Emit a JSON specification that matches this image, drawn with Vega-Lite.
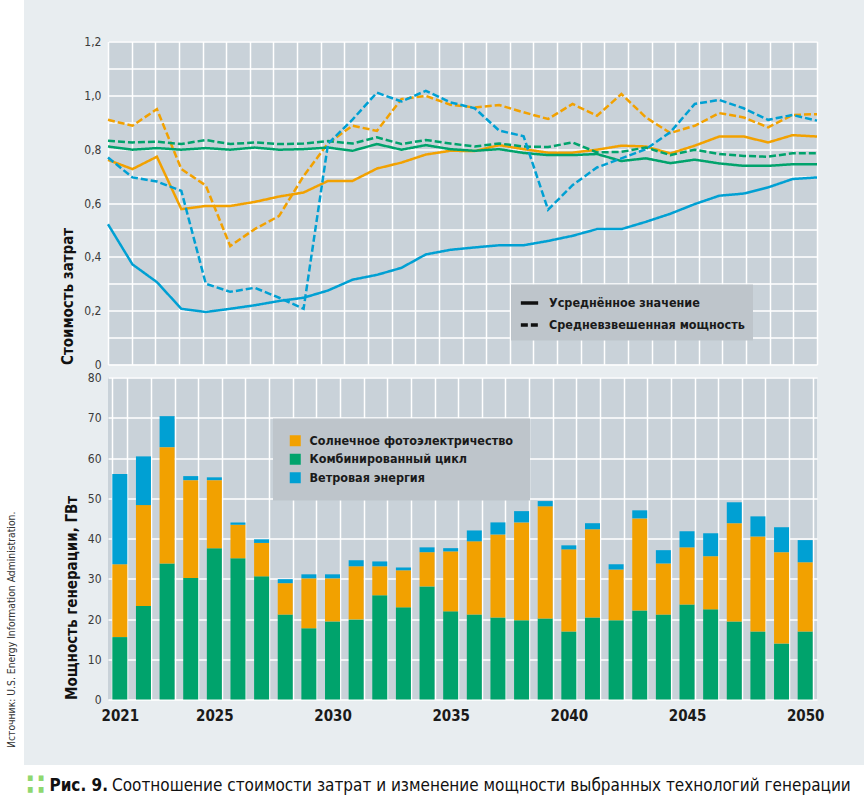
{
  "$schema": "https://vega.github.io/schema/vega-lite/v6.json",
  "background": "#e8edf0",
  "padding": 0,
  "spacing": 0,
  "config": {
    "font": "Liberation Sans Narrow, DejaVu Sans Condensed, Roboto Condensed, Roboto, sans-serif",
    "view": {"stroke": null, "fill": "#c9d2d9"},
    "axis": {
      "domain": false,
      "ticks": false,
      "gridColor": "#ffffff",
      "gridWidth": 1.5,
      "gridOpacity": 1,
      "labelFontSize": 12,
      "labelColor": "#3a3a3a",
      "labelPadding": 7,
      "titleFontSize": 15,
      "titleFontWeight": "bold",
      "titleColor": "#111111",
      "titleAnchor": "start",
      "titlePadding": 8
    },
    "legend": {
      "labelFontSize": 12.5,
      "labelFontWeight": "bold",
      "labelColor": "#1a1a1a",
      "labelLimit": 400
    }
  },
  "datasets": {
    "costs": [
      {"year": 2021, "tech": "solar", "avg": 0.76, "wtd": 0.909},
      {"year": 2022, "tech": "solar", "avg": 0.726, "wtd": 0.887},
      {"year": 2023, "tech": "solar", "avg": 0.772, "wtd": 0.949},
      {"year": 2024, "tech": "solar", "avg": 0.577, "wtd": 0.726},
      {"year": 2025, "tech": "solar", "avg": 0.589, "wtd": 0.665},
      {"year": 2026, "tech": "solar", "avg": 0.589, "wtd": 0.44},
      {"year": 2027, "tech": "solar", "avg": 0.604, "wtd": 0.503},
      {"year": 2028, "tech": "solar", "avg": 0.624, "wtd": 0.552},
      {"year": 2029, "tech": "solar", "avg": 0.639, "wtd": 0.70},
      {"year": 2030, "tech": "solar", "avg": 0.682, "wtd": 0.822},
      {"year": 2031, "tech": "solar", "avg": 0.682, "wtd": 0.887},
      {"year": 2032, "tech": "solar", "avg": 0.728, "wtd": 0.868},
      {"year": 2033, "tech": "solar", "avg": 0.75, "wtd": 0.986},
      {"year": 2034, "tech": "solar", "avg": 0.78, "wtd": 0.998},
      {"year": 2035, "tech": "solar", "avg": 0.794, "wtd": 0.965},
      {"year": 2036, "tech": "solar", "avg": 0.793, "wtd": 0.955},
      {"year": 2037, "tech": "solar", "avg": 0.815, "wtd": 0.964},
      {"year": 2038, "tech": "solar", "avg": 0.80, "wtd": 0.937},
      {"year": 2039, "tech": "solar", "avg": 0.787, "wtd": 0.912},
      {"year": 2040, "tech": "solar", "avg": 0.787, "wtd": 0.968},
      {"year": 2041, "tech": "solar", "avg": 0.798, "wtd": 0.924},
      {"year": 2042, "tech": "solar", "avg": 0.813, "wtd": 1.005},
      {"year": 2043, "tech": "solar", "avg": 0.81, "wtd": 0.918},
      {"year": 2044, "tech": "solar", "avg": 0.784, "wtd": 0.86},
      {"year": 2045, "tech": "solar", "avg": 0.813, "wtd": 0.887},
      {"year": 2046, "tech": "solar", "avg": 0.847, "wtd": 0.934},
      {"year": 2047, "tech": "solar", "avg": 0.847, "wtd": 0.918},
      {"year": 2048, "tech": "solar", "avg": 0.825, "wtd": 0.881},
      {"year": 2049, "tech": "solar", "avg": 0.852, "wtd": 0.927},
      {"year": 2050, "tech": "solar", "avg": 0.847, "wtd": 0.93},
      {"year": 2021, "tech": "cc", "avg": 0.81, "wtd": 0.831},
      {"year": 2022, "tech": "cc", "avg": 0.798, "wtd": 0.825},
      {"year": 2023, "tech": "cc", "avg": 0.804, "wtd": 0.828},
      {"year": 2024, "tech": "cc", "avg": 0.798, "wtd": 0.819},
      {"year": 2025, "tech": "cc", "avg": 0.804, "wtd": 0.834},
      {"year": 2026, "tech": "cc", "avg": 0.798, "wtd": 0.819},
      {"year": 2027, "tech": "cc", "avg": 0.806, "wtd": 0.825},
      {"year": 2028, "tech": "cc", "avg": 0.798, "wtd": 0.819},
      {"year": 2029, "tech": "cc", "avg": 0.80, "wtd": 0.821},
      {"year": 2030, "tech": "cc", "avg": 0.806, "wtd": 0.83},
      {"year": 2031, "tech": "cc", "avg": 0.794, "wtd": 0.821},
      {"year": 2032, "tech": "cc", "avg": 0.819, "wtd": 0.844},
      {"year": 2033, "tech": "cc", "avg": 0.798, "wtd": 0.819},
      {"year": 2034, "tech": "cc", "avg": 0.815, "wtd": 0.834},
      {"year": 2035, "tech": "cc", "avg": 0.80, "wtd": 0.821},
      {"year": 2036, "tech": "cc", "avg": 0.794, "wtd": 0.81},
      {"year": 2037, "tech": "cc", "avg": 0.80, "wtd": 0.821},
      {"year": 2038, "tech": "cc", "avg": 0.786, "wtd": 0.81},
      {"year": 2039, "tech": "cc", "avg": 0.778, "wtd": 0.808},
      {"year": 2040, "tech": "cc", "avg": 0.778, "wtd": 0.825},
      {"year": 2041, "tech": "cc", "avg": 0.782, "wtd": 0.788},
      {"year": 2042, "tech": "cc", "avg": 0.756, "wtd": 0.79},
      {"year": 2043, "tech": "cc", "avg": 0.766, "wtd": 0.806},
      {"year": 2044, "tech": "cc", "avg": 0.748, "wtd": 0.778},
      {"year": 2045, "tech": "cc", "avg": 0.761, "wtd": 0.798},
      {"year": 2046, "tech": "cc", "avg": 0.747, "wtd": 0.782},
      {"year": 2047, "tech": "cc", "avg": 0.738, "wtd": 0.775},
      {"year": 2048, "tech": "cc", "avg": 0.738, "wtd": 0.772},
      {"year": 2049, "tech": "cc", "avg": 0.744, "wtd": 0.785},
      {"year": 2050, "tech": "cc", "avg": 0.744, "wtd": 0.785},
      {"year": 2021, "tech": "wind", "avg": 0.521, "wtd": 0.769},
      {"year": 2022, "tech": "wind", "avg": 0.372, "wtd": 0.695},
      {"year": 2023, "tech": "wind", "avg": 0.306, "wtd": 0.68},
      {"year": 2024, "tech": "wind", "avg": 0.207, "wtd": 0.645},
      {"year": 2025, "tech": "wind", "avg": 0.195, "wtd": 0.30},
      {"year": 2026, "tech": "wind", "avg": 0.207, "wtd": 0.27},
      {"year": 2027, "tech": "wind", "avg": 0.22, "wtd": 0.285},
      {"year": 2028, "tech": "wind", "avg": 0.236, "wtd": 0.248},
      {"year": 2029, "tech": "wind", "avg": 0.248, "wtd": 0.207},
      {"year": 2030, "tech": "wind", "avg": 0.275, "wtd": 0.82},
      {"year": 2031, "tech": "wind", "avg": 0.315, "wtd": 0.91},
      {"year": 2032, "tech": "wind", "avg": 0.333, "wtd": 1.01},
      {"year": 2033, "tech": "wind", "avg": 0.359, "wtd": 0.977},
      {"year": 2034, "tech": "wind", "avg": 0.409, "wtd": 1.017},
      {"year": 2035, "tech": "wind", "avg": 0.426, "wtd": 0.974},
      {"year": 2036, "tech": "wind", "avg": 0.435, "wtd": 0.952},
      {"year": 2037, "tech": "wind", "avg": 0.443, "wtd": 0.869},
      {"year": 2038, "tech": "wind", "avg": 0.443, "wtd": 0.848},
      {"year": 2039, "tech": "wind", "avg": 0.459, "wtd": 0.575},
      {"year": 2040, "tech": "wind", "avg": 0.478, "wtd": 0.666},
      {"year": 2041, "tech": "wind", "avg": 0.503, "wtd": 0.732},
      {"year": 2042, "tech": "wind", "avg": 0.503, "wtd": 0.766},
      {"year": 2043, "tech": "wind", "avg": 0.53, "wtd": 0.80},
      {"year": 2044, "tech": "wind", "avg": 0.56, "wtd": 0.863},
      {"year": 2045, "tech": "wind", "avg": 0.596, "wtd": 0.968},
      {"year": 2046, "tech": "wind", "avg": 0.627, "wtd": 0.983},
      {"year": 2047, "tech": "wind", "avg": 0.635, "wtd": 0.952},
      {"year": 2048, "tech": "wind", "avg": 0.658, "wtd": 0.909},
      {"year": 2049, "tech": "wind", "avg": 0.689, "wtd": 0.927},
      {"year": 2050, "tech": "wind", "avg": 0.695, "wtd": 0.906}
    ],
    "capacity": [
      {"year": 2021, "cc": 15.5, "solar": 18.1, "wind": 22.4},
      {"year": 2022, "cc": 23.2, "solar": 25.1, "wind": 12.1},
      {"year": 2023, "cc": 33.8, "solar": 28.9, "wind": 7.7},
      {"year": 2024, "cc": 30.2, "solar": 24.3, "wind": 1.0},
      {"year": 2025, "cc": 37.6, "solar": 16.9, "wind": 0.7},
      {"year": 2026, "cc": 35.1, "solar": 8.3, "wind": 0.6},
      {"year": 2027, "cc": 30.6, "solar": 8.3, "wind": 0.9},
      {"year": 2028, "cc": 21.1, "solar": 7.8, "wind": 1.0},
      {"year": 2029, "cc": 17.7, "solar": 12.4, "wind": 1.0},
      {"year": 2030, "cc": 19.4, "solar": 10.7, "wind": 1.0},
      {"year": 2031, "cc": 19.9, "solar": 13.2, "wind": 1.5},
      {"year": 2032, "cc": 25.9, "solar": 7.2, "wind": 1.2},
      {"year": 2033, "cc": 22.9, "solar": 9.2, "wind": 0.7},
      {"year": 2034, "cc": 28.1, "solar": 8.5, "wind": 1.2},
      {"year": 2035, "cc": 21.9, "solar": 14.9, "wind": 0.8},
      {"year": 2036, "cc": 21.1, "solar": 18.2, "wind": 2.7},
      {"year": 2037, "cc": 20.4, "solar": 20.6, "wind": 3.0},
      {"year": 2038, "cc": 19.7, "solar": 24.3, "wind": 2.8},
      {"year": 2039, "cc": 20.1, "solar": 27.9, "wind": 1.3},
      {"year": 2040, "cc": 16.9, "solar": 20.4, "wind": 1.0},
      {"year": 2041, "cc": 20.4, "solar": 21.9, "wind": 1.5},
      {"year": 2042, "cc": 19.7, "solar": 12.6, "wind": 1.3},
      {"year": 2043, "cc": 22.1, "solar": 22.9, "wind": 2.0},
      {"year": 2044, "cc": 21.1, "solar": 12.7, "wind": 3.3},
      {"year": 2045, "cc": 23.6, "solar": 14.2, "wind": 4.0},
      {"year": 2046, "cc": 22.4, "solar": 13.2, "wind": 5.7},
      {"year": 2047, "cc": 19.4, "solar": 24.4, "wind": 5.2},
      {"year": 2048, "cc": 16.9, "solar": 23.6, "wind": 5.0},
      {"year": 2049, "cc": 13.9, "solar": 22.7, "wind": 6.2},
      {"year": 2050, "cc": 16.9, "solar": 17.2, "wind": 5.5}
    ]
  },
  "vconcat": [
    {
      "hconcat": [
        {
          "width": 24,
          "height": 765,
          "view": {"fill": "#ffffff", "stroke": null},
          "data": {"values": [{"source": "Источник: U.S. Energy Information Administration."}]},
          "mark": {"type": "text", "angle": 270, "align": "left", "baseline": "middle", "y": "height", "dx": 17, "fontSize": 10.3, "color": "#333333"},
          "encoding": {"text": {"field": "source"}}
        },
        {
          "vconcat": [
            {
              "width": 709,
              "height": 323,
              "data": {"name": "costs"},
              "transform": [{"fold": ["avg", "wtd"], "as": ["kind", "value"]}],
              "mark": {"type": "line", "strokeWidth": 2.5},
              "encoding": {
                "x": {
                  "field": "year",
                  "type": "quantitative",
                  "scale": {"domain": [2021, 2050], "nice": false, "zero": false},
                  "axis": {
                    "title": null,
                    "labels": false,
                    "grid": true,
                    "values": [2021, 2021.9667, 2022.9333, 2023.9, 2024.8667, 2025.8333, 2026.8, 2027.7667, 2028.7333, 2029.7, 2030.6667, 2031.6333, 2032.6, 2033.5667, 2034.5333, 2035.5, 2036.4667, 2037.4333, 2038.4, 2039.3667, 2040.3333, 2041.3, 2042.2667, 2043.2333, 2044.2, 2045.1667, 2046.1333, 2047.1, 2048.0667, 2049.0333, 2050]
                  }
                },
                "y": {
                  "field": "value",
                  "type": "quantitative",
                  "scale": {"domain": [0, 1.2], "nice": false},
                  "axis": {
                    "title": "Стоимость затрат",
                    "values": [0, 0.1, 0.2, 0.3, 0.4, 0.5, 0.6, 0.7, 0.8, 0.9, 1.0, 1.1, 1.2],
                    "labelExpr": "datum.value == 0 ? '0' : (round(datum.value * 10) % 2 == 0 ? replace(format(datum.value, '.1f'), '.', ',') : '')"
                  }
                },
                "color": {
                  "field": "tech",
                  "type": "nominal",
                  "scale": {"domain": ["solar", "cc", "wind"], "range": ["#f2a100", "#00a36c", "#00a0d3"]},
                  "legend": null
                },
                "strokeDash": {
                  "field": "kind",
                  "type": "nominal",
                  "scale": {"domain": ["avg", "wtd"], "range": [[1, 0], [7, 3]]},
                  "legend": {
                    "title": null,
                    "orient": "none",
                    "legendX": 403,
                    "legendY": 243,
                    "fillColor": "#bec5cb",
                    "padding": 8,
                    "symbolType": "stroke",
                    "symbolStrokeColor": "#111111",
                    "symbolStrokeWidth": 3.5,
                    "symbolSize": 300,
                    "rowPadding": 4,
                    "labelOffset": 9,
                    "labelExpr": "datum.value == 'avg' ? 'Усреднённое значение' : 'Средневзвешенная мощность'"
                  }
                }
              }
            },
            {
              "width": 709,
              "height": 322,
              "data": {"name": "capacity"},
              "transform": [{"fold": ["cc", "solar", "wind"], "as": ["tech", "value"]}],
              "mark": {"type": "bar"},
              "encoding": {
                "x": {
                  "field": "year",
                  "type": "ordinal",
                  "scale": {"paddingInner": 0.365, "paddingOuter": 0.1825},
                  "axis": {
                    "title": null,
                    "grid": true,
                    "tickBand": "extent",
                    "labelAngle": 0,
                    "labelOverlap": false,
                    "labelFontSize": 15,
                    "labelFontWeight": "bold",
                    "labelColor": "#1a1a1a",
                    "labelPadding": 9,
                    "labelExpr": "(datum.value == 2021 || datum.value % 5 == 0) ? datum.label : ''"
                  }
                },
                "y": {
                  "field": "value",
                  "type": "quantitative",
                  "stack": "zero",
                  "scale": {"domain": [0, 80], "nice": false},
                  "axis": {
                    "title": "Мощность генерации, ГВт",
                    "values": [0, 10, 20, 30, 40, 50, 60, 70, 80]
                  }
                },
                "color": {
                  "field": "tech",
                  "type": "nominal",
                  "scale": {"domain": ["solar", "cc", "wind"], "range": ["#f2a100", "#00a36c", "#00a0d3"]},
                  "legend": {
                    "title": null,
                    "orient": "none",
                    "legendX": 165,
                    "legendY": 41,
                    "fillColor": "#bec5cb",
                    "padding": 16,
                    "symbolType": "square",
                    "symbolSize": 121,
                    "symbolStrokeWidth": 0,
                    "symbolOpacity": 1,
                    "rowPadding": 5.5,
                    "labelOffset": 8,
                    "labelExpr": "datum.value == 'solar' ? 'Солнечное фотоэлектричество' : (datum.value == 'cc' ? 'Комбинированный цикл' : 'Ветровая энергия')"
                  }
                },
                "order": {"field": "tech", "sort": "ascending"}
              }
            }
          ],
          "spacing": 1,
          "resolve": {
            "scale": {"x": "independent", "y": "independent", "color": "independent", "strokeDash": "independent"},
            "legend": {"color": "independent", "strokeDash": "independent"}
          }
        }
      ],
      "spacing": 36,
      "center": true
    },
    {
      "width": 864,
      "height": 46,
      "view": {"fill": "#ffffff", "stroke": null},
      "data": {"values": [{"bullet": "∷", "fig": "Рис. 9.", "caption": "Соотношение стоимости затрат и изменение мощности выбранных технологий генерации"}]},
      "layer": [
        {
          "mark": {"type": "text", "align": "center", "baseline": "middle", "dx": -396, "dy": -2, "fontSize": 30, "fontWeight": "bold", "color": "#8fd86f"},
          "encoding": {"text": {"field": "bullet"}}
        },
        {
          "mark": {"type": "text", "align": "right", "baseline": "middle", "dx": -324, "dy": -2, "fontSize": 17, "fontWeight": "bold", "color": "#111111"},
          "encoding": {"text": {"field": "fig"}}
        },
        {
          "mark": {"type": "text", "align": "left", "baseline": "middle", "dx": -320, "dy": -2, "fontSize": 17, "color": "#111111"},
          "encoding": {"text": {"field": "caption"}}
        }
      ]
    }
  ]
}
